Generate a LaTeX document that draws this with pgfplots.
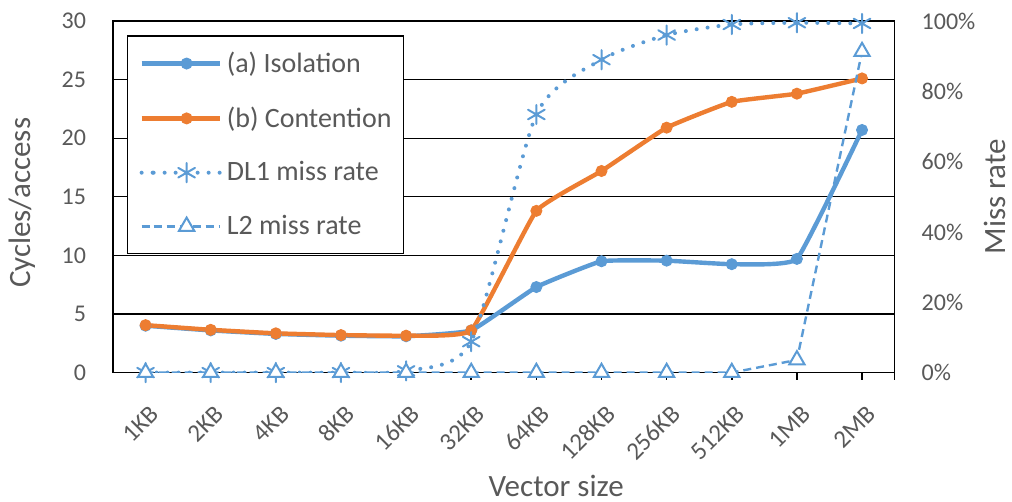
\documentclass[border=0pt]{standalone}
\usepackage{pgfplots}
\pgfplotsset{compat=1.18}
\usepackage{fontspec}
\setmainfont{Carlito}

\definecolor{isoblue}{HTML}{5B9BD5}
\definecolor{conorange}{HTML}{ED7D31}
\definecolor{labelgray}{HTML}{595959}

% Cycles per access (left axis) and miss rates in percent (right axis)
\pgfplotstableread{
x iso con dlone ltwo
0  4.00  4.05  0.0  0.0
1  3.60  3.65  0.0  0.0
2  3.30  3.35  0.0  0.0
3  3.15  3.20  0.0  0.0
4  3.10  3.15  0.5  0.0
5  3.60  3.60  8.8  0.0
6  7.30 13.80 73.4  0.0
7  9.50 17.20 89.0  0.0
8  9.55 20.90 96.0  0.0
9  9.25 23.10 99.0  0.0
10 9.70 23.80 99.5  3.6
11 20.70 25.10 99.3 91.3
}\datatable

\pgfplotsset{
  common/.style={
    at={(56.5pt,64.7pt)}, anchor=south west,
    width=390.8pt, height=175.8pt, scale only axis,
    xmin=-0.5, xmax=11.5,
    /pgf/number format/assume math mode=true,
    tick label style={font=\fontsize{12}{14}\selectfont, text=labelgray},
    label style={font=\fontsize{15.5}{18}\selectfont, text=labelgray},
  },
  isostyle/.style={isoblue, line width=2.2pt, smooth, tension=0.2,
    mark=*, mark size=2.75pt, mark options={fill=isoblue, draw=isoblue, line width=0.5pt, solid}},
  constyle/.style={conorange, line width=2.2pt, smooth, tension=0.2,
    mark=*, mark size=2.75pt, mark options={fill=conorange, draw=conorange, line width=0.5pt, solid}},
  dlstyle/.style={isoblue, line width=2pt, line cap=round, dash pattern=on 0pt off 5.5pt,
    smooth, tension=0.4,
    mark=asterisk, mark size=4.8pt, mark options={isoblue, line width=1pt, solid}},
  l2style/.style={isoblue, line width=1.2pt, dash pattern=on 4pt off 2.5pt,
    sharp plot,
    mark=triangle*, mark size=4.4pt, mark options={draw=isoblue, fill=white, line width=1pt, solid}},
}

\begin{document}
\begin{tikzpicture}
\path[use as bounding box] (0,0) rectangle (506pt,251pt);

% Primary axis: cycles per access
\begin{axis}[
  common,
  ymin=0, ymax=30, ytick={0,5,...,30},
  ymajorgrids, grid style={black, line width=0.6pt},
  axis line style={black, line width=0.75pt},
  xtick={0,...,11}, xtick pos=bottom, ytick pos=left,
  extra x ticks={11.5}, extra x tick labels={},
  extra x tick style={xtick pos=bottom, xtick align=outside, major tick length=3.5pt},
  xtick align=outside, major tick length=3.5pt,
  xtick style={black, line width=0.75pt},
  ytick style={draw=none},
  xticklabels={1KB,2KB,4KB,8KB,16KB,32KB,64KB,128KB,256KB,512KB,1MB,2MB},
  xticklabel style={rotate=45, anchor=east, yshift=-14pt, xshift=-4pt,
    font=\fontsize{12.5}{14}\selectfont},
  yticklabel style={xshift=-10pt},
  ylabel={Cycles/access},
  ylabel style={at={(axis description cs:-0.1164,0.4825)}, anchor=center},
  xlabel={Vector size},
  xlabel style={at={(axis description cs:0.567,-0.322)}, anchor=center},
]
\addplot[isostyle] table[x=x, y=iso] {\datatable};
\addplot[constyle] table[x=x, y=con] {\datatable};
\end{axis}

% Secondary axis: miss rates
\begin{axis}[
  common,
  ymin=0, ymax=100, ytick={0,20,...,100},
  axis y line*=right, axis x line=none,
  axis line style={black, line width=0.75pt},
  ytick style={draw=none},
  yticklabel={\pgfmathprintnumber{\tick}\%},
  yticklabel style={anchor=west, xshift=10pt},
  ylabel={Miss rate},
  ylabel style={at={(axis description cs:1.1290,0.50)}, anchor=center, inner sep=0pt},
  legend style={
    at={(axis description cs:0.0175,0.960)}, anchor=north west,
    draw=black, line width=0.75pt, fill=white,
    font=\fontsize{14}{16}\selectfont, text=labelgray,
    inner xsep=6pt, inner ysep=6pt, row sep=11.7pt,
    nodes={inner xsep=0pt},
    /tikz/every odd column/.append style={column sep=2.5pt},
    legend cell align=left,
  },
  legend image code/.code={%
    \path (-6pt,0pt) -- (0pt,0pt);
    \draw[mark repeat=2, mark phase=2] plot coordinates {(0pt,0pt) (16.5pt,0pt) (33pt,0pt)};},
]
\addlegendimage{isostyle, sharp plot}
\addlegendentry{(a) Isolation}
\addlegendimage{constyle, sharp plot}
\addlegendentry{(b) Contention}
\addlegendimage{dlstyle, sharp plot}
\addlegendentry{DL1 miss rate}
\addlegendimage{l2style}
\addlegendentry{L2 miss rate}
\addplot[dlstyle, forget plot] table[x=x, y=dlone] {\datatable};
\addplot[l2style, forget plot] table[x=x, y=ltwo] {\datatable};
\end{axis}
\end{tikzpicture}
\end{document}
